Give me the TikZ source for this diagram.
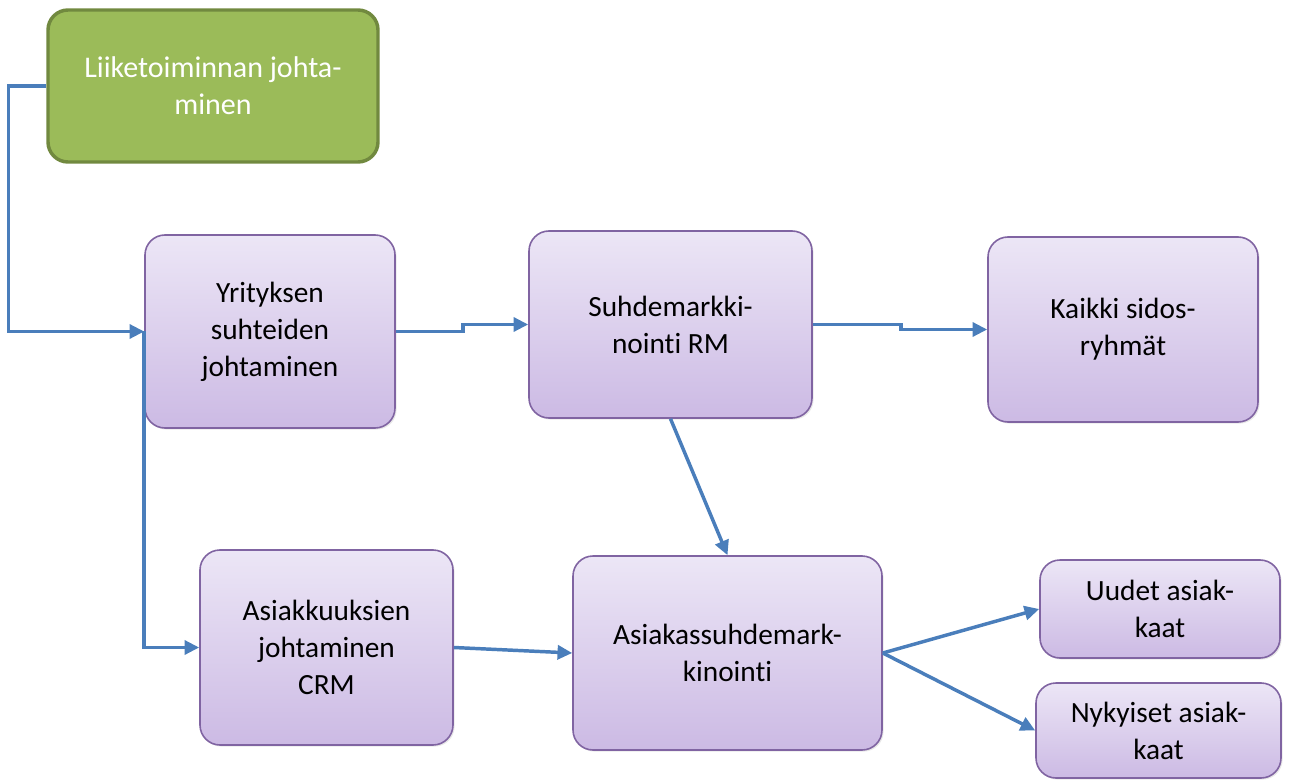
\documentclass[tikz,border=0pt]{standalone}
\usepackage{fontspec}
\setmainfont[Ligatures=NoCommon]{Carlito}
\usetikzlibrary{arrows.meta}
\usetikzlibrary{shadows}

\begin{document}
\begin{tikzpicture}[x=0.75pt,y=-0.75pt,
    purplebox/.style={
      rounded corners=15pt,
      draw=pborder,
      line width=1.2pt,
      top color=ptop,
      bottom color=pbottom,
      align=center,
      text=black,
      font=\fontsize{22}{27.75}\selectfont,
      drop shadow={opacity=0.18,shadow xshift=1.2pt,shadow yshift=-1.2pt}
    },
    greenbox/.style={
      rounded corners=15pt,
      draw=gborder,
      line width=2.6pt,
      fill=gfill,
      align=center,
      text=white,
      font=\fontsize{22.5}{27.75}\selectfont
    },
    link/.style={
      draw=lblue,
      line width=2.6pt,
      -{Triangle[length=11pt,width=10.5pt]}
    }]
\definecolor{gfill}{RGB}{155,187,89}
\definecolor{gborder}{RGB}{113,137,63}
\definecolor{ptop}{RGB}{236,230,246}
\definecolor{pbottom}{RGB}{204,186,228}
\definecolor{pborder}{RGB}{128,100,162}
\definecolor{lblue}{RGB}{74,126,187}

\useasboundingbox (0,0) rectangle (1291,780);

\node[greenbox, minimum width=247.5pt, minimum height=114pt] (lead) at (213, 86) {Liiketoiminnan johta-\\minen};

\node[purplebox, minimum width=187.5pt, minimum height=144.75pt] (yr) at (270, 331.5) {Yrityksen\\suhteiden\\johtaminen};
\node[purplebox, minimum width=212.25pt, minimum height=140.25pt] (rm) at (670.5, 324.5) {Suhdemarkki-\\nointi RM};
\node[purplebox, minimum width=202.5pt, minimum height=138.75pt] (sid) at (1123, 329.5) {Kaikki sidos-\\ryhmät};

\node[purplebox, minimum width=189.75pt, minimum height=146.25pt] (crm) at (326.5, 647.5) {Asiakkuuksien\\johtaminen\\CRM};
\node[purplebox, minimum width=231.75pt, minimum height=145.5pt] (asm) at (727.5, 653) {Asiakassuhdemark-\\kinointi};

\node[purplebox, minimum width=180pt, minimum height=73.5pt] (uud) at (1160, 609) {Uudet asiak-\\kaat};
\node[purplebox, minimum width=183.75pt, minimum height=71.25pt] (nyk) at (1158.5, 730.5) {Nykyiset asiak-\\kaat};

% connectors
\draw[link] (lead.west) -- ++(-38,0) |- (yr.west);
\draw[link] (yr.west) |- (crm.west);
\draw[link] (yr.east) -- ++(67,0) |- (rm.west);
\draw[link] (rm.east) -- ++(88,0) |- (sid.west);
\draw[link] (rm.south) -- (asm.north);
\draw[link] (crm.east) -- (asm.west);
\draw[link] (asm.east) -- (uud.west);
\draw[link] (asm.east) -- (nyk.west);

\end{tikzpicture}
\end{document}
